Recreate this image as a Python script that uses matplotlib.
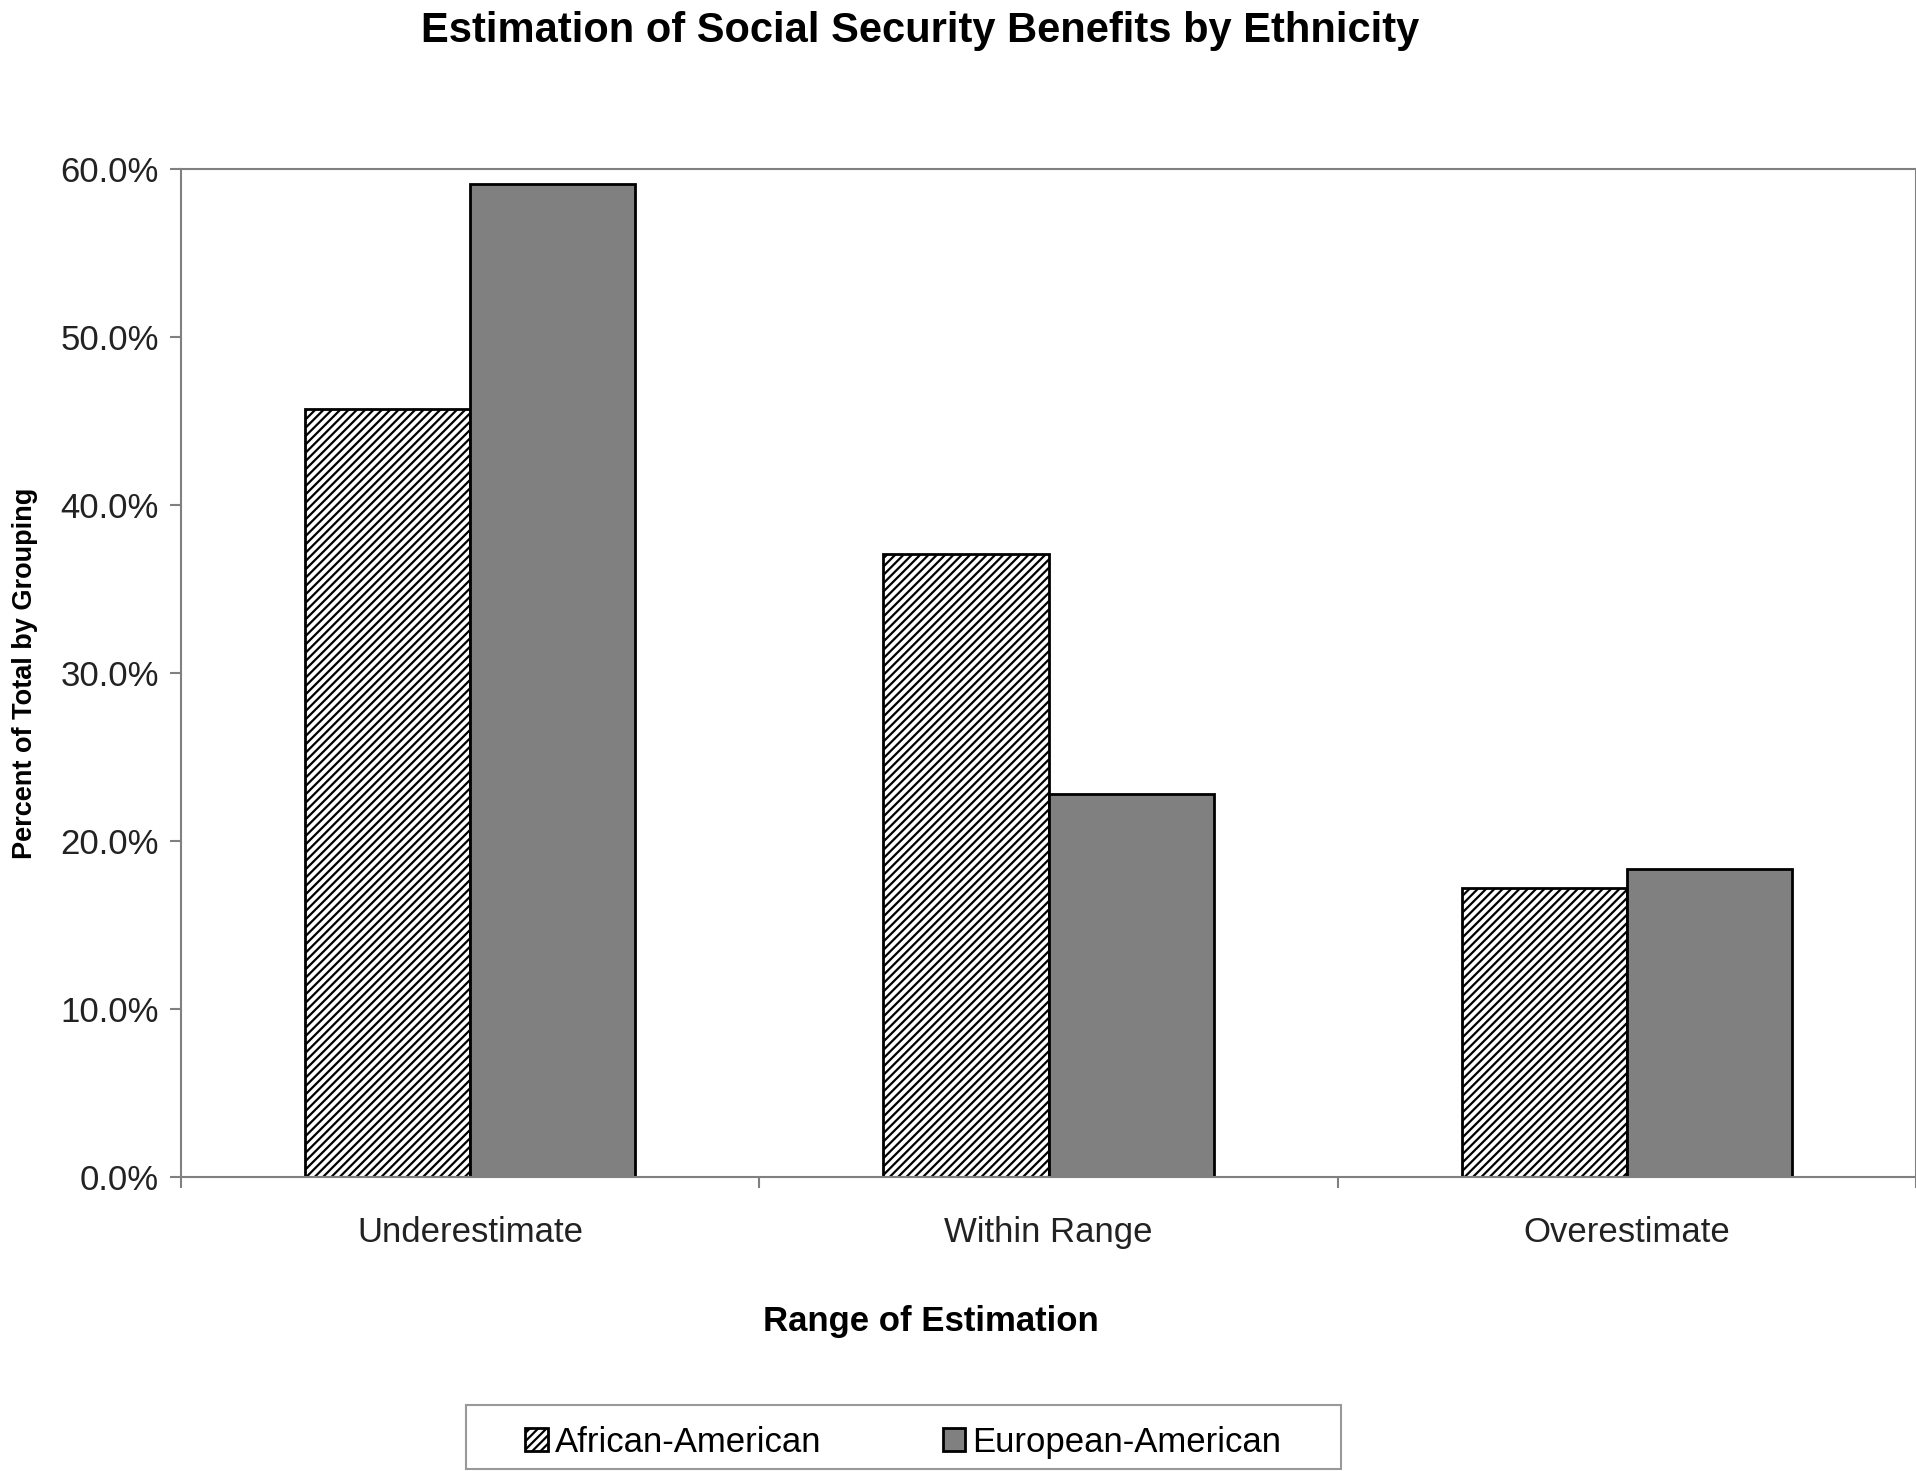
import matplotlib.pyplot as plt
from matplotlib.patches import Rectangle
import numpy as np

plt.rcParams['font.family'] = ['Liberation Sans', 'DejaVu Sans']
plt.rcParams['hatch.linewidth'] = 1.6

######
# data
######
categories = ['Underestimate', 'Within Range', 'Overestimate']
african_american = [45.7, 37.1, 17.2]
european_american = [59.1, 22.8, 18.3]
yticks = [0, 10, 20, 30, 40, 50, 60]

fig = plt.figure(figsize=(19.16, 14.71), dpi=100)
ax = fig.add_axes([0.0945, 0.2, 0.9055, 0.685])

x = np.arange(len(categories))
w = 0.2857

ax.bar(x - w / 2, african_american, w, color='white', edgecolor='black',
       hatch='////', linewidth=2, label='African-American')
ax.bar(x + w / 2, european_american, w, color='#808080', edgecolor='black',
       linewidth=2, label='European-American')

ax.set_xlim(-0.5, 2.5)
ax.set_ylim(0, 60)
ax.set_yticks(yticks)
ax.set_yticklabels(['%.1f%%' % v for v in yticks], fontsize=25, color='#222222')

# category labels at centres, ticks on boundaries
ax.set_xticks(x)
ax.set_xticklabels(categories, fontsize=25, color='#222222')
ax.tick_params(axis='x', which='major', length=0, pad=28)
ax.set_xticks([-0.5, 0.5, 1.5, 2.5], minor=True)
ax.tick_params(axis='x', which='minor', length=8, color='#808080', width=1.5)
ax.tick_params(axis='y', length=8, color='#808080', width=1.5, pad=8)

for s in ax.spines.values():
    s.set_color('#808080')
    s.set_linewidth(1.5)

fig.text(0.486, 0.1018, 'Range of Estimation', fontsize=25, fontweight='bold',
         ha='center', va='center')
fig.text(0.0128, 0.5425, 'Percent of Total by Grouping', rotation=90,
         fontsize=19.5, fontweight='bold', ha='center', va='center')
fig.text(0.48, 0.979, 'Estimation of Social Security Benefits by Ethnicity',
         fontsize=30, fontweight='bold', ha='center', va='center')

# legend box is wider than its entries, so draw the frame separately
fig.patches.append(Rectangle((0.2432, 0.0015), 0.4567, 0.0434,
                             transform=fig.transFigure, facecolor='white',
                             edgecolor='#999999', linewidth=1.5, zorder=0))
leg = fig.legend(loc='center', bbox_to_anchor=(0.4714, 0.0195), ncol=2,
                 fontsize=25, frameon=False, handlelength=0.65,
                 handleheight=0.65, handletextpad=0.2, columnspacing=3.5)

fig.savefig('out.png', dpi=100)
